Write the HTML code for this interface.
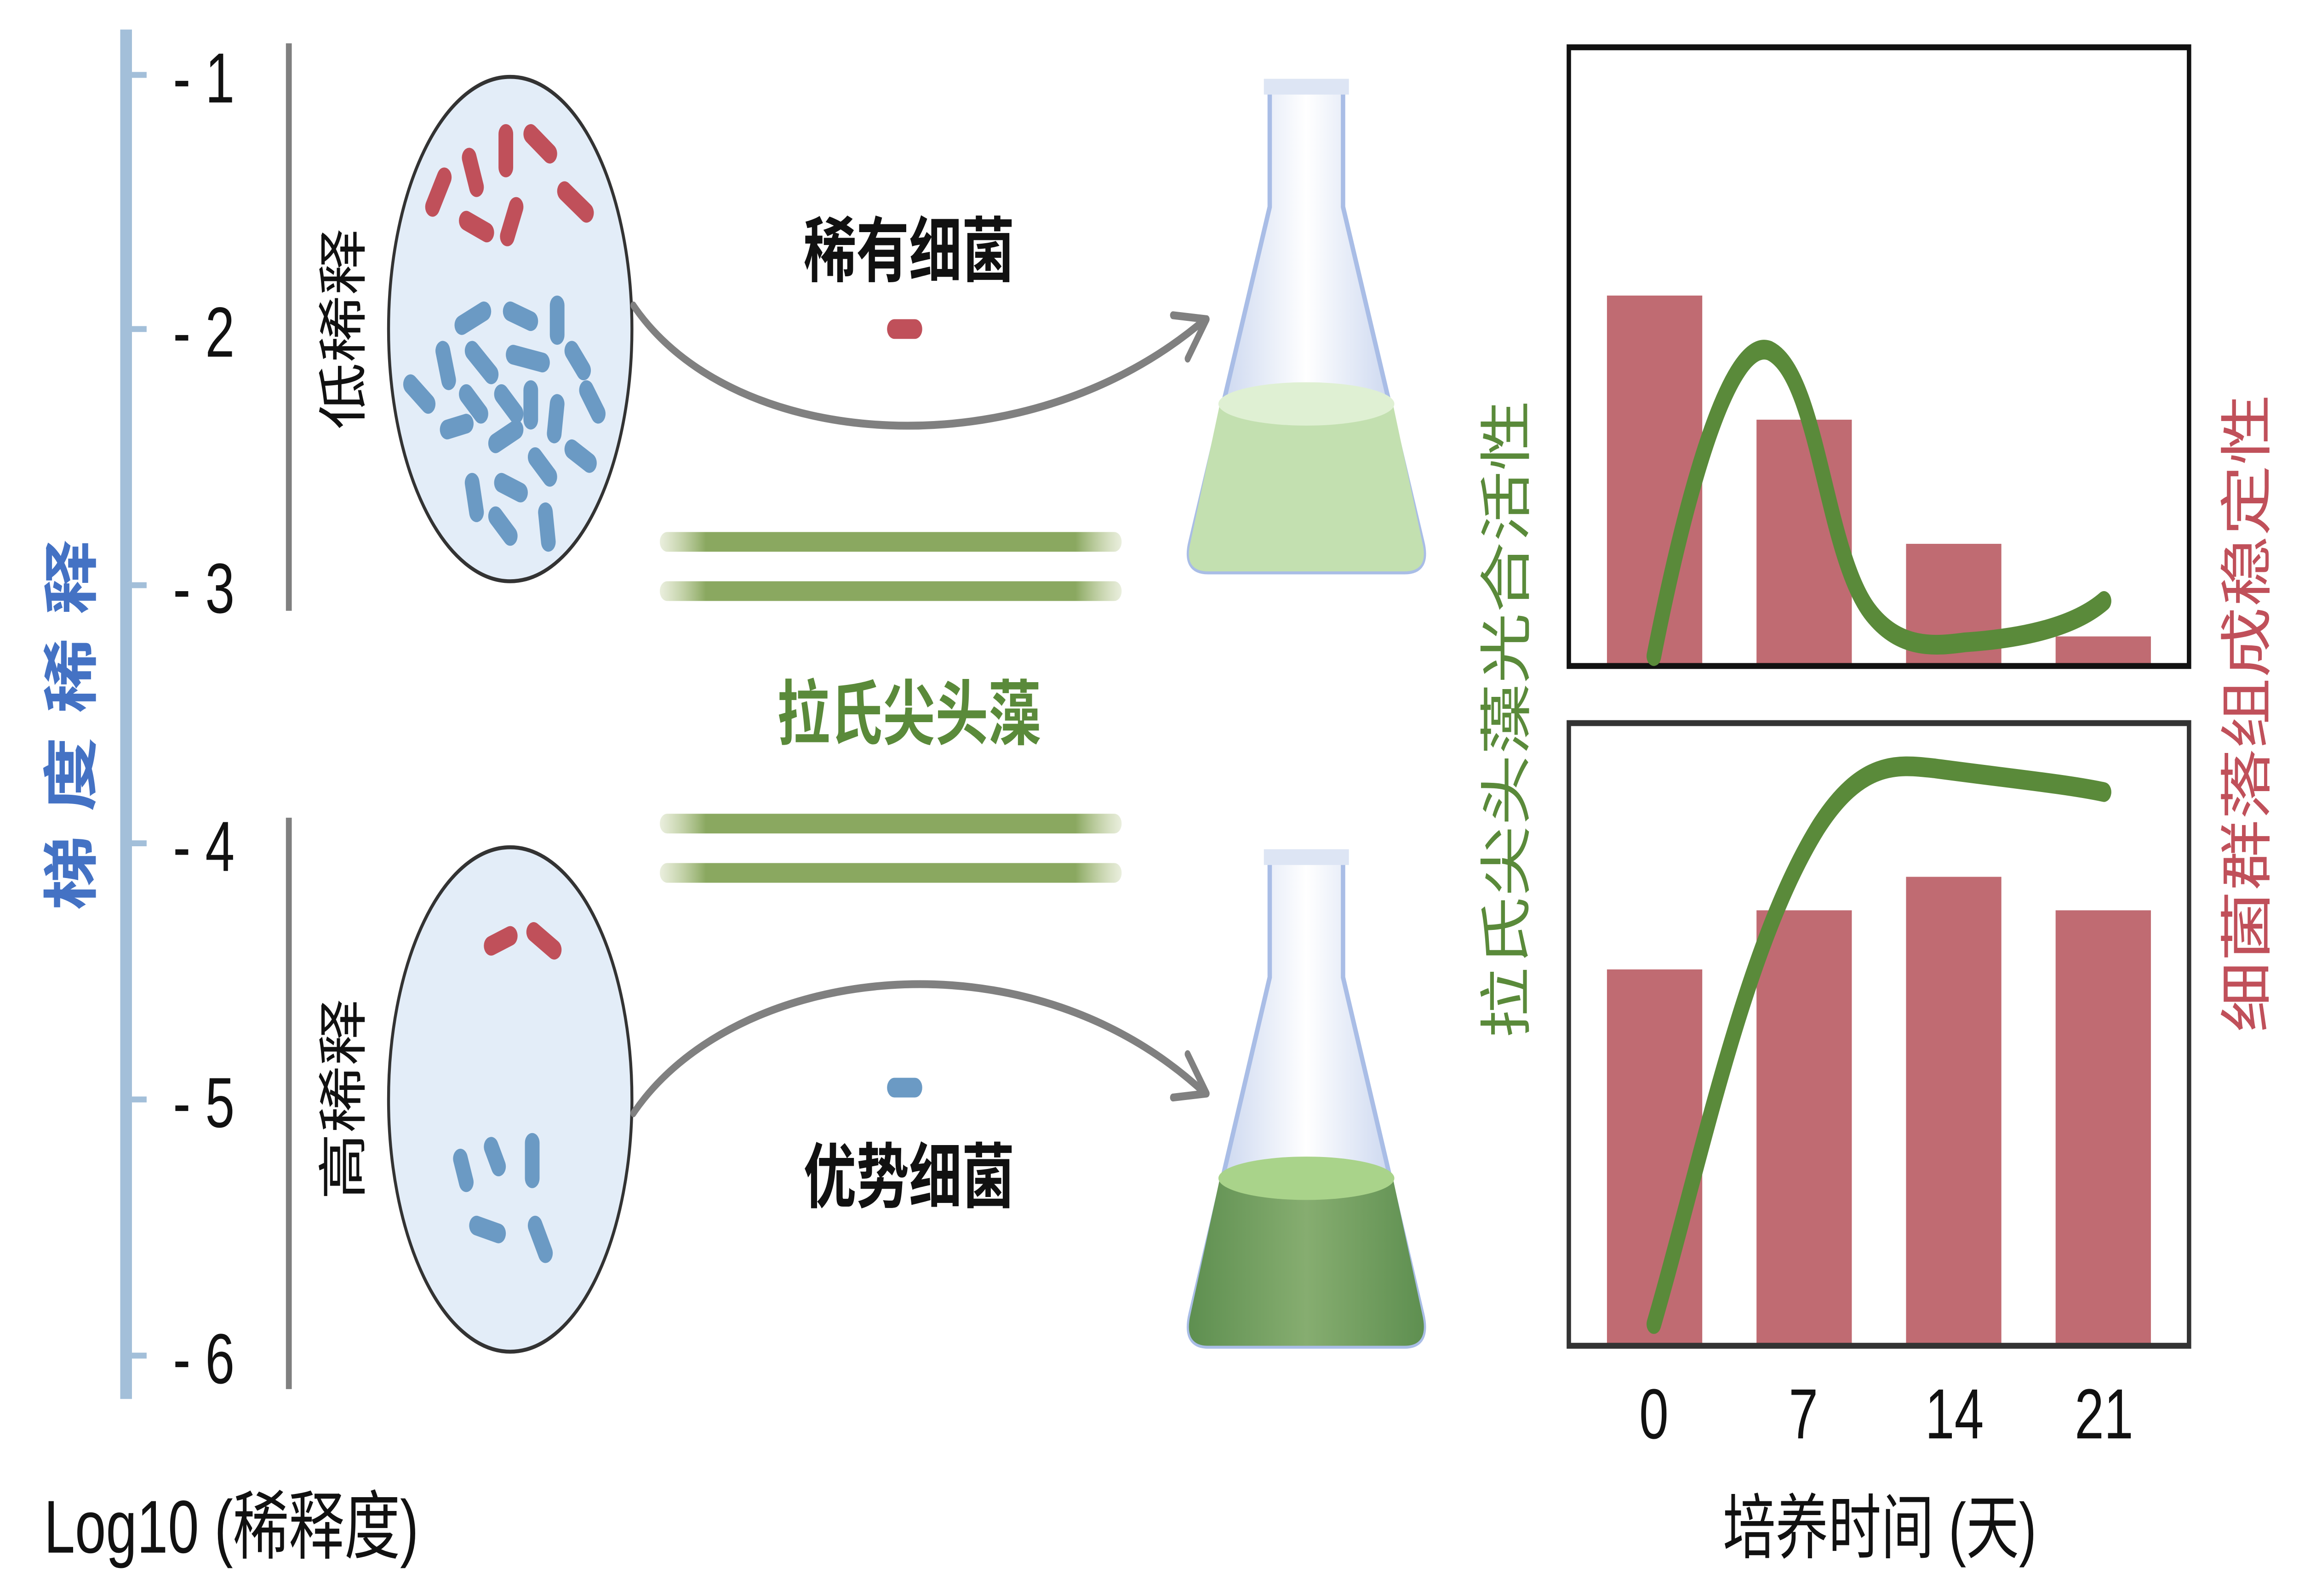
<!DOCTYPE html>
<html><head><meta charset="utf-8">
<style>
html,body{margin:0;padding:0;background:#fff;width:100%;height:100%;overflow:hidden;}
svg{display:block;position:absolute;left:0;top:0;width:100vw;height:100vh;}
text{font-family:"Liberation Sans","Noto Sans CJK SC",sans-serif;}
</style></head>
<body>
<svg viewBox="0 0 1568 810" preserveAspectRatio="none" xmlns="http://www.w3.org/2000/svg">
<defs>
<linearGradient id="glass" x1="0" x2="1" y1="0" y2="0">
<stop offset="0" stop-color="#b9c9ea"/><stop offset="0.5" stop-color="#ffffff"/><stop offset="1" stop-color="#b9c9ea"/>
</linearGradient>
<linearGradient id="liq2" x1="0" x2="1"><stop offset="0" stop-color="#5e8f50"/><stop offset="0.5" stop-color="#86ad70"/><stop offset="1" stop-color="#5e8f50"/></linearGradient>
<linearGradient id="alg" x1="0" x2="1"><stop offset="0" stop-color="#b8c890" stop-opacity="0.3"/><stop offset="0.1" stop-color="#8aa860"/><stop offset="0.9" stop-color="#8aa860"/><stop offset="1" stop-color="#b8c890" stop-opacity="0.3"/></linearGradient>
</defs>
<rect x="82" y="15" width="8" height="695" fill="#a3bfd9"/>
<g stroke="#a3bfd9" stroke-width="3">
<line x1="90" y1="38" x2="100" y2="38"/><line x1="90" y1="167" x2="100" y2="167"/><line x1="90" y1="297" x2="100" y2="297"/>
<line x1="90" y1="428" x2="100" y2="428"/><line x1="90" y1="558" x2="100" y2="558"/><line x1="90" y1="688" x2="100" y2="688"/>
</g>
<g font-size="36" fill="#111">
<text x="118" y="52">- 1</text><text x="118" y="181">- 2</text><text x="118" y="311">- 3</text>
<text x="118" y="442">- 4</text><text x="118" y="572">- 5</text><text x="118" y="702">- 6</text>
</g>
<text transform="translate(62,362) rotate(-90)" text-anchor="middle" font-size="38" font-weight="bold" fill="#4472c4" letter-spacing="12">梯度稀释</text>
<line x1="197" y1="22" x2="197" y2="310" stroke="#808080" stroke-width="4"/>
<line x1="197" y1="415" x2="197" y2="705" stroke="#808080" stroke-width="4"/>
<text transform="translate(246,167) rotate(-90)" text-anchor="middle" font-size="34" fill="#111">低稀释</text>
<text transform="translate(246,558) rotate(-90)" text-anchor="middle" font-size="34" fill="#111">高稀释</text>
<ellipse cx="348" cy="167" rx="83" ry="128" fill="#e3edf8" stroke="#333" stroke-width="2"/>
<ellipse cx="348" cy="558" rx="83" ry="128" fill="#e3edf8" stroke="#333" stroke-width="2"/>
<g stroke="#c0505a" stroke-width="10" stroke-linecap="round">
<line x1="295" y1="105" x2="303" y2="90"/><line x1="320" y1="80" x2="325" y2="95"/><line x1="345" y1="68" x2="345" y2="85"/>
<line x1="362" y1="68" x2="375" y2="78"/><line x1="318" y1="112" x2="332" y2="118"/><line x1="346" y1="120" x2="352" y2="105"/>
<line x1="385" y1="97" x2="400" y2="108"/>
<line x1="335" y1="480" x2="348" y2="475"/><line x1="364" y1="473" x2="378" y2="482"/>
</g>
<g stroke="#6b9ac4" stroke-width="10" stroke-linecap="round">
<line x1="315" y1="165" x2="330" y2="158"/><line x1="348" y1="158" x2="362" y2="163"/><line x1="380" y1="155" x2="380" y2="170"/>
<line x1="302" y1="178" x2="306" y2="193"/><line x1="322" y1="178" x2="335" y2="190"/><line x1="350" y1="180" x2="370" y2="184"/>
<line x1="390" y1="178" x2="398" y2="188"/><line x1="280" y1="195" x2="292" y2="205"/><line x1="318" y1="200" x2="328" y2="210"/>
<line x1="342" y1="200" x2="352" y2="210"/><line x1="362" y1="198" x2="362" y2="213"/><line x1="380" y1="205" x2="378" y2="220"/>
<line x1="400" y1="198" x2="408" y2="210"/><line x1="305" y1="218" x2="318" y2="215"/><line x1="338" y1="225" x2="352" y2="218"/>
<line x1="365" y1="232" x2="375" y2="242"/><line x1="390" y1="228" x2="402" y2="235"/><line x1="322" y1="245" x2="325" y2="260"/>
<line x1="342" y1="245" x2="355" y2="250"/><line x1="338" y1="262" x2="348" y2="272"/><line x1="372" y1="260" x2="374" y2="275"/>
<line x1="314" y1="588" x2="318" y2="600"/><line x1="335" y1="582" x2="340" y2="592"/><line x1="363" y1="580" x2="363" y2="598"/>
<line x1="325" y1="622" x2="340" y2="626"/><line x1="365" y1="622" x2="372" y2="636"/>
</g>
<g fill="none" stroke="#808080" stroke-width="4" stroke-linecap="round" stroke-linejoin="round">
<path d="M432,155 C500,230 700,240 822,162"/>
<path d="M800,160 L823,162 L810,182"/>
<path d="M432,565 C500,490 700,470 822,555"/>
<path d="M810,535 L823,555 L800,557"/>
</g>
<text x="620" y="140" text-anchor="middle" font-size="36" font-weight="bold" fill="#111">稀有细菌</text>
<line x1="610" y1="167" x2="624" y2="167" stroke="#c0505a" stroke-width="10" stroke-linecap="round"/>
<text x="620" y="610" text-anchor="middle" font-size="36" font-weight="bold" fill="#111">优势细菌</text>
<line x1="610" y1="552" x2="624" y2="552" stroke="#6b9ac4" stroke-width="10" stroke-linecap="round"/>
<g fill="url(#alg)">
<rect x="450" y="270" width="315" height="10" rx="5"/><rect x="450" y="295" width="315" height="10" rx="5"/>
<rect x="450" y="413" width="315" height="10" rx="5"/><rect x="450" y="438" width="315" height="10" rx="5"/>
</g>
<text x="620" y="375" text-anchor="middle" font-size="36" font-weight="bold" fill="#5a8a3a">拉氏尖头藻</text>
<path d="M866,42 L916,42 L916,105 L970,275 Q975,290 958,290 L824,290 Q807,290 812,275 L866,105 Z" fill="url(#glass)" stroke="#a9bde6" stroke-width="3"/>
<path d="M832,205 L950,205 L970,275 Q975,290 958,290 L824,290 Q807,290 812,275 Z" fill="#c3e0b0"/>
<ellipse cx="891" cy="205" rx="60" ry="11" fill="#dff0d3"/>
<rect x="862" y="40" width="58" height="8" fill="#dde5f4"/>
<path d="M866,433 L916,433 L916,496 L970,667 Q975,683 958,683 L824,683 Q807,683 812,667 L866,496 Z" fill="url(#glass)" stroke="#a9bde6" stroke-width="3"/>
<path d="M832,598 L950,598 L970,667 Q975,683 958,683 L824,683 Q807,683 812,667 Z" fill="url(#liq2)"/>
<ellipse cx="891" cy="598" rx="60" ry="11" fill="#a9d38a"/>
<rect x="862" y="431" width="58" height="8" fill="#dde5f4"/>
<g fill="#c06b72">
<rect x="1096" y="150" width="65" height="188"/><rect x="1198" y="213" width="65" height="125"/>
<rect x="1300" y="276" width="65" height="62"/><rect x="1402" y="323" width="65" height="15"/>
<rect x="1096" y="492" width="65" height="191"/><rect x="1198" y="462" width="65" height="221"/>
<rect x="1300" y="445" width="65" height="238"/><rect x="1402" y="462" width="65" height="221"/>
</g>
<rect x="1070" y="24" width="423" height="314" fill="none" stroke="#111" stroke-width="3"/>
<rect x="1070" y="367" width="423" height="316" fill="none" stroke="#333" stroke-width="3"/>
<g fill="none" stroke="#5a8a3a" stroke-width="10" stroke-linecap="round">
<path d="M1128,333 C1150,250 1180,170 1207,178 C1240,190 1245,280 1275,310 C1295,330 1320,328 1340,326 C1380,324 1415,318 1435,305"/>
<path d="M1128,672 C1160,590 1190,480 1240,420 C1270,385 1295,388 1320,390 C1370,395 1410,398 1435,402"/>
</g>
<g font-size="36" fill="#111" text-anchor="middle">
<text x="1128" y="730">0</text><text x="1230" y="730">7</text><text x="1333" y="730">14</text><text x="1435" y="730">21</text>
<text x="1282" y="788">培养时间 (天)</text>
</g>
<text x="30" y="788" font-size="38" fill="#111">Log10 (稀释度)</text>
<text transform="translate(1040,365) rotate(-90)" text-anchor="middle" font-size="36" fill="#5a8a3a">拉氏尖头藻光合活性</text>
<text transform="translate(1545,362) rotate(-90)" text-anchor="middle" font-size="36" fill="#c0505a">细菌群落组成稳定性</text>
</svg>
</body></html>
